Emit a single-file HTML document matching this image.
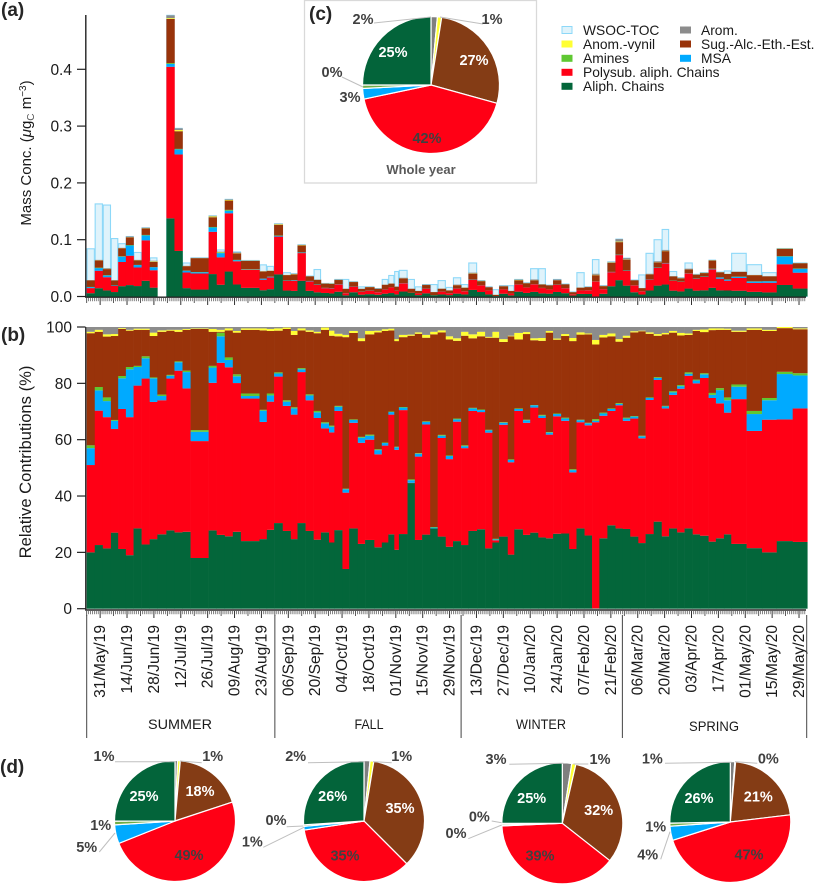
<!DOCTYPE html>
<html lang="en">
<head>
<meta charset="utf-8">
<title>Aerosol composition chart</title>
<style>
html,body{margin:0;padding:0;background:#fff}
svg{display:block;font-family:"Liberation Sans",sans-serif}
.tick{font-size:15.5px;fill:#1a1a1a}
.date{font-size:15.6px;fill:#1a1a1a}
.title{font-size:15px;fill:#1a1a1a}
.panel{font-size:19px;font-weight:700;fill:#262626}
.season{font-size:14px;fill:#1a1a1a;text-anchor:middle}
.leg{font-size:13.8px;fill:#1a1a1a}
.pl{font-size:14.5px;font-weight:700;fill:#404040;text-anchor:middle;dominant-baseline:central}
.pw{font-size:14.5px;font-weight:700;fill:#fff;text-anchor:middle;dominant-baseline:central}
.lead{stroke:#bfbfbf;stroke-width:1;fill:none}
</style>
</head>
<body>
<svg id="fig" xmlns="http://www.w3.org/2000/svg" width="815" height="885" viewBox="0 0 815 885">
  <g id="wsocBars"></g>
  <g id="massBars"></g>
  <g id="relBars"></g>
  <g id="axes"></g>

  <text class="panel" x="1" y="16">(a)</text>
  <text class="panel" x="1" y="341">(b)</text>
  <text class="panel" x="0" y="773" font-weight="400">(d)</text>

  <text class="title" transform="translate(31,153) rotate(-90)" text-anchor="middle">Mass Conc. (<tspan font-style="italic">μ</tspan>g<tspan font-size="10" dy="3" fill="#555">C</tspan><tspan dy="-3"> m</tspan><tspan font-size="10" dy="-5">−3</tspan><tspan dy="5">)</tspan></text>
  <text transform="translate(31,462) rotate(-90)" text-anchor="middle" font-size="16.6" fill="#1a1a1a">Relative Contributions (%)</text>

  <text class="season" x="180" y="729" textLength="64" lengthAdjust="spacingAndGlyphs">SUMMER</text>
  <text class="season" x="369" y="729" textLength="29" lengthAdjust="spacingAndGlyphs">FALL</text>
  <text class="season" x="541" y="729" textLength="50" lengthAdjust="spacingAndGlyphs">WINTER</text>
  <text class="season" x="714" y="731" textLength="50" lengthAdjust="spacingAndGlyphs">SPRING</text>

  <rect x="304.5" y="0.5" width="232" height="182.5" fill="#fff" stroke="#d9d9d9" stroke-width="1.3"/>
  <text class="panel" x="309" y="20">(c)</text>
  <g id="pieWhole"></g>
  <g id="pieSummer"></g>
  <g id="pieFall"></g>
  <g id="pieWinter"></g>
  <g id="pieSpring"></g>

  <g>
    <path class="lead" d="M374 23L431 17M440 17L483 24M342 77L363 87"/>
    <text class="pl" x="363" y="20">2%</text>
    <text class="pl" x="492" y="20">1%</text>
    <text class="pl" x="332" y="73">0%</text>
    <text class="pl" x="350" y="98">3%</text>
    <text class="pw" x="393" y="53">25%</text>
    <text class="pw" x="474" y="61">27%</text>
    <text class="pl" x="427" y="139">42%</text>
    <text x="421" y="174" text-anchor="middle" font-size="13" font-weight="700" fill="#595959">Whole year</text>
  </g>

  <g>
    <path class="lead" d="M115 761.7L175.5 761.7M201.7 762.7L180 761M99.3 852L115 833"/>
    <text class="pl" x="104" y="757">1%</text>
    <text class="pl" x="212.7" y="757">1%</text>
    <text class="pw" x="144" y="797">25%</text>
    <text class="pw" x="200" y="792">18%</text>
    <text class="pl" x="189" y="856">49%</text>
    <text class="pl" x="100.7" y="826">1%</text>
    <text class="pl" x="86.7" y="848">5%</text>
  </g>
  <g>
    <path class="lead" d="M308 762.7L365 761.7M391.7 762.7L373 761.7M286.7 826.7L303.3 826M263.3 847.3L304 827.3"/>
    <text class="pl" x="295.7" y="757">2%</text>
    <text class="pl" x="401.7" y="757">1%</text>
    <text class="pw" x="332.7" y="797">26%</text>
    <text class="pw" x="400" y="809">35%</text>
    <text class="pl" x="345" y="856.7">35%</text>
    <text class="pl" x="276" y="821">0%</text>
    <text class="pl" x="252.3" y="842.7">1%</text>
  </g>
  <g>
    <path class="lead" d="M509.3 764.3L563.3 763.3M588.3 764L573.3 764M491.7 821L501.7 822.7M468.3 838.7L501.7 825"/>
    <text class="pl" x="496" y="760">3%</text>
    <text class="pl" x="600" y="760">1%</text>
    <text class="pw" x="531.7" y="799">25%</text>
    <text class="pw" x="598.7" y="811">32%</text>
    <text class="pl" x="540" y="856.7">39%</text>
    <text class="pl" x="479.3" y="817.7">0%</text>
    <text class="pl" x="456" y="834">0%</text>
  </g>
  <g>
    <path class="lead" d="M665 763.3L731.7 762.3M757.3 763.3L735 761.7M660.7 859.3L670 831.7"/>
    <text class="pl" x="652.3" y="759.3">1%</text>
    <text class="pl" x="768.3" y="759.3">0%</text>
    <text class="pw" x="699" y="799">26%</text>
    <text class="pw" x="758.3" y="797.7">21%</text>
    <text class="pl" x="749" y="855.7">47%</text>
    <text class="pl" x="655.7" y="827.3">1%</text>
    <text class="pl" x="647.7" y="855.7">4%</text>
  </g>

  <g>
    <g><rect x="562" y="26.5" width="10" height="7" fill="#dff3fb" stroke="#8dd8f8"/><text class="leg" x="583" y="35">WSOC-TOC</text></g>
    <g><rect x="561.5" y="40.5" width="11" height="7" fill="#ffff33"/><text class="leg" x="583" y="49">Anom.-vynil</text></g>
    <g><rect x="561.5" y="54.8" width="11" height="7" fill="#5fc832"/><text class="leg" x="583" y="63">Amines</text></g>
    <g><rect x="561.5" y="68.8" width="11" height="7" fill="#ff0015"/><text class="leg" x="583" y="77">Polysub. aliph. Chains</text></g>
    <g><rect x="561.5" y="82.8" width="11" height="7" fill="#03663a"/><text class="leg" x="583" y="91">Aliph. Chains</text></g>
    <g><rect x="680" y="26.5" width="11" height="7" fill="#8c8c8c"/><text class="leg" x="701" y="35">Arom.</text></g>
    <g><rect x="680" y="40.5" width="11" height="7" fill="#99330a"/><text class="leg" x="701" y="49">Sug.-Alc.-Eth.-Est.</text></g>
    <g><rect x="680" y="54.8" width="11" height="7" fill="#00aaff"/><text class="leg" x="701" y="63">MSA</text></g>
  </g>
</svg>
<script>
// Sampling duration of each filter, in days (first sample starts 24 May 2019)
const sampleDays = [4.2,4.2,4.2,3.8,4.0,4.0,4.2,4.2,4.0,4.7,4.2,4.2,4.2,9.4,4.2,4.2,4.2,4.2,9.7,3.8,3.8,4.5,4.2,3.5,4.2,4.2,3.8,4.2,2.8,4.2,3.5,4.5,3.8,4.8,3.9,3.4,3.1,2.4,4.5,3.8,3.8,4.2,3.9,4.2,3.8,4.2,3.8,4.5,4.2,3.8,3.5,4.5,3.4,4.5,3.8,4.2,3.9,3.8,4.2,4.2,3.8,4.2,3.9,3.8,4.2,4.2,3.8,3.9,4.2,3.8,4.2,4.2,3.8,4.2,3.9,4.2,3.8,4.5,3.8,4.2,3.8,8.0,8.0,7.7,8.3,7.6];
// Total speciated mass concentration (µgC m-3)
const massTotal = [.029,.0645,.05,.029,.0857,.1056,.0645,.121,.063,0,.495,.296,.054,.068,.142,.079,.171,.0775,.0634,.0446,.0458,.128,.038,.04,.091,.036,.03,.023,.023,.03,.014,.026,.014,.017,.014,.021,.023,.018,.033,.014,.01,.021,.008,.014,.011,.021,.016,.042,.028,.017,.003,.019,.01,.03,.024,.03,.022,.02,.03,.022,.008,.016,.017,.04,.019,.061,.101,.0675,.029,.015,.04,.062,.082,.036,.033,.049,.039,.042,.064,.043,.04,.044,.038,.036,.0845,.059];
// WSOC-TOC top of bar
const wsocToc = [.084,.163,.161,.102,.093,.1056,.0775,.121,.068,0,.495,.296,.059,.068,.142,.082,.171,.0785,.0634,.0557,.053,.128,.042,.04,.091,.036,.0475,.023,.023,.03,.03,.026,.017,.017,.014,.03,.037,.044,.046,.03,.017,.021,.021,.028,.016,.033,.021,.059,.028,.017,.012,.019,.019,.03,.024,.049,.049,.02,.03,.022,.008,.042,.017,.065,.019,.061,.101,.0675,.029,.038,.076,.1,.118,.044,.033,.059,.039,.042,.064,.043,.045,.076,.056,.042,.0845,.059];
// Relative contributions (%)
const aliph = [20,22.6,21.4,27,21.2,19,28.5,22.8,24.7,26.4,27.8,27.1,27.3,18,27.8,26.2,25.7,27.3,24,24.7,28,30.4,27.6,24.7,30.4,27.6,24.5,27.1,23.5,27.9,14.1,28.5,23,24.4,21.8,23.5,26.4,20.9,26.5,44.6,24.4,26.3,28.5,25.6,22,24,22.6,27.6,28.2,21.4,23.5,25.6,19.2,28.2,26.2,27,25.3,25,26.6,26.7,21.2,28.5,26,0.1,25,29.6,28.5,28.3,25.6,23.3,26.5,30.9,25.7,28.5,27.1,28.5,26.4,25.9,23.8,25,26.4,23,21.5,20,24,23.7];
const polysub = [31,47.7,46.6,36.8,49.7,49,50.7,58.9,48.7,47.6,53.9,57.4,50.9,41.5,52.4,61.1,60,52.8,50.6,41.6,45.5,52,44.4,44.2,53.6,46.4,43.2,36.9,39.1,42.3,27.1,37.5,35.9,35.6,33,34.4,42.5,35.5,44,.1,29.6,39.1,0,35,31.1,42.4,34.4,42.6,41.6,41.1,.8,39.7,32.8,42,39.8,44.4,42.4,36.8,41.7,40,27.2,37.7,39.1,66.1,43.5,40.6,43.7,38.4,41.9,37.2,47.6,50.3,45.4,47.4,51,54.2,53.6,56,51,47.9,43.2,51.4,41.6,47.1,43.2,47.4];
const msa = [6,7.2,5.7,2.9,10.9,17,6.6,7.2,8.4,1.5,1,3,5.8,3.3,5.4,9.4,2.6,2.4,.9,4,2.2,1.1,1.5,2.2,1,1.7,2,1.8,2,1.5,1.2,1,1.8,1.4,1.5,.9,.9,.9,.9,.9,1,.9,.3,.8,1.1,.8,.7,.9,.7,.8,.3,.7,.8,.7,.9,.8,.8,.7,.8,.8,.8,.7,.7,.5,.8,.7,.5,.8,.7,.7,.7,.7,.7,.9,.9,.7,1,1.3,1.1,4.7,4.4,4.4,6,6.9,16.1,11.7];
const amines = [1,1.2,1.3,.3,.8,.8,.4,.7,.3,.5,.3,.3,.5,.6,.6,1.3,.9,.7,.9,.3,.7,.4,.5,.4,.4,.4,.5,.4,.4,.3,.2,.2,.3,.4,.3,.2,.2,.2,.2,.3,.2,.2,.2,.3,.2,.3,.3,.2,.2,.2,.2,.2,.2,.2,.2,.1,.3,.2,.2,.3,.3,.2,.2,.6,.3,.2,.3,.3,.2,.2,.2,.3,.2,.4,.4,.5,.3,.4,.7,.7,1,.8,1.1,.8,.8,.8];
const sugars = [39.8,19.6,21.6,29.8,16.7,12.9,12.8,9.4,14.7,22.3,15.7,10.5,14.5,35.9,12.1,.3,9.6,14.8,22.6,28.2,22.2,14.8,25.3,25.7,13.4,22.2,27.6,32.8,31.9,24.7,53.8,30.7,34,35.6,41.5,39.6,28.8,37.5,24.8,51,42.4,29.7,68.4,36.4,41.2,27.6,38.9,24.7,26,32.7,71.4,28.5,43.7,24.5,30.4,23,26.3,35.3,26.2,29,45.5,30.2,31.4,26.5,26.7,25.6,21.8,28.4,29.7,37.1,22.6,14.7,25.4,20.8,17.6,13.3,17.3,14.6,22.3,20.7,24,18.7,28.8,23.8,15.5,15.6];
const anomVynil = [.5,.7,.8,.7,.3,.3,.4,.4,1.2,.5,.3,.7,.3,.2,1,.7,.7,.6,.5,.7,.7,.8,.5,1.4,.7,.5,.5,.8,1.8,.9,.8,.7,1,1.2,.6,.6,.6,.7,.8,.4,.5,1,.9,.7,1.1,.9,1.4,1.4,1.6,.3,2.1,1,.2,2.3,.7,.7,1,.6,.4,.7,1.1,.8,.3,1.6,.9,1,.9,.7,.4,.2,.5,.6,.5,.6,.9,.5,.4,.9,.6,.5,.4,.4,.5,.4,.4,.3];
const arom = [1.7,1,2.6,2.5,.4,1,.6,.6,2,1.2,1,1,.7,.5,.7,1,.5,1.4,.5,.5,.7,.5,.2,1.4,.5,1.2,1.7,.2,1.3,2.4,2.8,1.4,4,1.4,1.3,.8,.6,4.3,2.8,2.7,1.9,2.8,1.7,1.2,3.3,4,1.7,2.6,1.7,3.5,1.7,4.3,3.1,2.1,1.8,4,3.9,1.4,4.1,2.5,3.9,1.9,2.3,4.6,2.8,2.3,4.3,3.1,1.5,1.3,1.9,2.5,2.1,1.4,2.1,2.3,1,.9,.5,.5,.6,1.3,.5,1,0,.5];
// Axis ticks
const massTicks = [0,0.1,0.2,0.3,0.4];
const massTickLabels = ["0.0","0.1","0.2","0.3","0.4"];
const relTicks = [0,20,40,60,80,100];
const dateLabels = ["31/May/19","14/Jun/19","28/Jun/19","12/Jul/19","26/Jul/19","09/Aug/19","23/Aug/19","06/Sep/19","20/Sep/19","04/Oct/19","18/Oct/19","01/Nov/19","15/Nov/19","29/Nov/19","13/Dec/19","27/Dec/19","10/Jan/20","24/Jan/20","07/Feb/20","21/Feb/20","06/Mar/20","20/Mar/20","03/Apr/20","17/Apr/20","01/May/20","15/May/20","29/May/20"];
const seasonStartDays = [0,98,195,279,375];
// Pie shares (%), order: arom, anom, sug, poly, msa, amines, aliph
const pieWholeYear = [1.5,1,26.8,42.4,2.5,.8,25];
const pieSummerVals = [.7,.7,18.5,49,5,1,25];
const pieFallVals = [1.6,1,34.9,35.1,1,.4,26];
const pieWinterVals = [2.5,1.1,32,38.7,.3,.4,25];
const pieSpringVals = [1.2,.2,21.7,47,3.8,.8,25.3];

const NS = "http://www.w3.org/2000/svg";
const DAY_PX = 1.92, X0 = 86.7;
const xDay = d => X0 + d * DAY_PX;
const yMass = v => 296.5 - 568 * v;
const yRel = p => 608.7 - 2.817 * p;
const stackSeries = [
  {vals: aliph, color: "#03663a", key: "aliph"},
  {vals: polysub, color: "#ff0015", key: "polysub"},
  {vals: msa, color: "#00aaff", key: "msa"},
  {vals: amines, color: "#5fc832", key: "amines"},
  {vals: sugars, color: "#99330a", key: "sugars"},
  {vals: anomVynil, color: "#ffff33", key: "anom"},
  {vals: arom, color: "#8c8c8c", key: "arom"}
];
function mk(parent, tag, attrs, txt) {
  const el = document.createElementNS(NS, tag);
  for (const k in attrs) el.setAttribute(k, attrs[k]);
  if (txt !== undefined) el.textContent = txt;
  parent.appendChild(el);
  return el;
}
const gWsoc = document.getElementById("wsocBars");
const gMass = document.getElementById("massBars");
const gRel = document.getElementById("relBars");
const gAxes = document.getElementById("axes");

let dayCursor = 0;
sampleDays.forEach((dur, i) => {
  const x = xDay(dayCursor), w = dur * DAY_PX;
  dayCursor += dur;
  if (wsocToc[i] > 0) {
    const wr = mk(gWsoc, "rect", {x: x + 0.4, y: yMass(wsocToc[i]), width: w - 0.8, height: yMass(0) - yMass(wsocToc[i]), fill: "#dff3fb", stroke: "#8dd8f8", "stroke-width": 1.1});
    
    
  }
  let sum = 0;
  stackSeries.forEach(s => { sum += s.vals[i]; });
  let cumRel = 0, cumMass = 0;
  stackSeries.forEach(s => {
    const pct = s.vals[i];
    const r = mk(gRel, "rect", {x: x, y: yRel(cumRel + pct), width: w + 0.3, height: Math.max(0, yRel(cumRel) - yRel(cumRel + pct)), fill: s.color});
    
    
    cumRel += pct;
    const m = massTotal[i] * pct / sum;
    if (m > 0) {
      const b = mk(gMass, "rect", {x: x, y: yMass(cumMass + m), width: w + 0.3, height: yMass(cumMass) - yMass(cumMass + m), fill: s.color});
      
      
    }
    cumMass += m;
  });
});

// Axis frames
const axisA = mk(gAxes, "path", {d: "M85.8 15V297.2H806", stroke: "#222", "stroke-width": 1.4, fill: "none"});


const axisB = mk(gAxes, "path", {d: "M85.8 327V610H806", stroke: "#222", "stroke-width": 1.4, fill: "none"});



massTicks.forEach((v, i) => {
  const t = mk(gAxes, "line", {x1: 77, x2: 85.5, y1: yMass(v), y2: yMass(v), stroke: "#222", "stroke-width": 1.2});
  
  
  const l = mk(gAxes, "text", {x: 72, y: yMass(v) + 5.5, "text-anchor": "end", class: "tick"}, massTickLabels[i]);
  
  
});
relTicks.forEach(v => {
  const t = mk(gAxes, "line", {x1: 77, x2: 85.5, y1: yRel(v), y2: yRel(v), stroke: "#222", "stroke-width": 1.2});
  
  
  const l = mk(gAxes, "text", {x: 72, y: yRel(v) + 5.5, "text-anchor": "end", class: "tick"}, String(v));
  
  
});

// Daily ticks for both time axes
for (let d = 0; d <= 374; d++) {
  const major = (d - 7) % 14 === 0;
  const mid = (d - 7) % 7 === 0;
  const len = major ? 7 : mid ? 5 : 3.2;
  [298, 611].forEach(y0 => {
    const t = mk(gAxes, "line", {x1: xDay(d), x2: xDay(d), y1: y0, y2: y0 + len, stroke: major || mid ? "#333" : "#666", "stroke-width": major ? 1 : 0.8});
    
    
  });
}
dateLabels.forEach((lab, i) => {
  const x = xDay(7 + 14 * i);
  const t = mk(gAxes, "text", {transform: "translate(" + (x + 5) + ",625) rotate(-90)", "text-anchor": "end", class: "date"}, lab);
  
  
});
seasonStartDays.forEach(d => {
  const s = mk(gAxes, "line", {x1: xDay(d), x2: xDay(d), y1: 615, y2: 738, stroke: "#444", "stroke-width": 1});
  
  
});

// Pies
const pieColors = ["#7f7f7f", "#ffff33", "#843c15", "#ff0015", "#00aaff", "#70ad47", "#03643a"];
function drawPie(id, vals, cx, cy, r) {
  const g = document.getElementById(id);
  const total = vals.reduce((a, b) => a + b, 0);
  let acc = 0;
  vals.forEach((v, i) => {
    const a0 = acc / total * 2 * Math.PI;
    acc += v;
    const a1 = acc / total * 2 * Math.PI;
    const x0 = cx + r * Math.sin(a0), y0 = cy - r * Math.cos(a0);
    const x1 = cx + r * Math.sin(a1), y1 = cy - r * Math.cos(a1);
    const large = a1 - a0 > Math.PI ? 1 : 0;
    const p = mk(g, "path", {d: "M" + cx + " " + cy + "L" + x0 + " " + y0 + "A" + r + " " + r + " 0 " + large + " 1 " + x1 + " " + y1 + "Z", fill: pieColors[i], stroke: "#fff", "stroke-width": 1.2});
    
    
  });
}
drawPie("pieWhole", pieWholeYear, 431, 85, 68.5);
drawPie("pieSummer", pieSummerVals, 175, 821, 60.5);
drawPie("pieFall", pieFallVals, 364, 821, 60.5);
drawPie("pieWinter", pieWinterVals, 562.3, 823.3, 60.5);
drawPie("pieSpring", pieSpringVals, 730.3, 822, 60.5);
</script>
</body>
</html>
